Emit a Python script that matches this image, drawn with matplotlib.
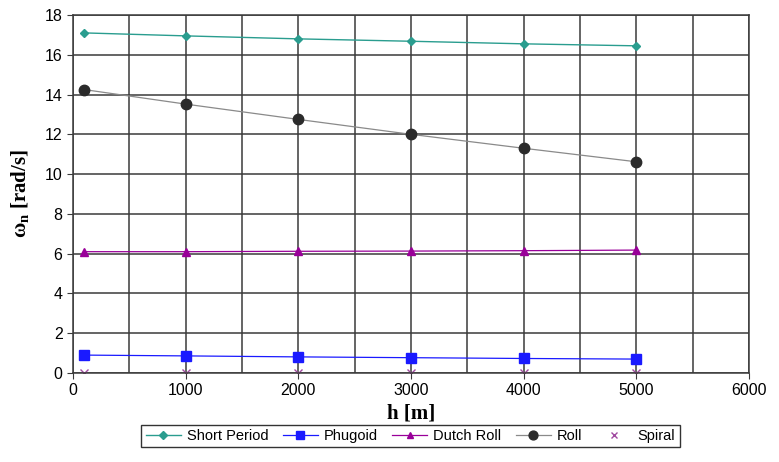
import matplotlib
matplotlib.use("Agg")
import matplotlib.pyplot as plt
from matplotlib.ticker import MultipleLocator

plt.rcParams["mathtext.fontset"] = "custom"
plt.rcParams["mathtext.rm"] = "Liberation Serif"
plt.rcParams["mathtext.it"] = "Liberation Serif:italic"
plt.rcParams["mathtext.bf"] = "Liberation Serif:bold"

h = [100, 1000, 2000, 3000, 4000, 5000]
short_period = [17.1, 16.95, 16.8, 16.68, 16.55, 16.45]
phugoid = [0.9, 0.86, 0.81, 0.77, 0.73, 0.70]
dutch_roll = [6.1, 6.1, 6.12, 6.13, 6.15, 6.18]
roll = [14.25, 13.52, 12.75, 12.0, 11.3, 10.62]
spiral = [0.02, 0.02, 0.02, 0.02, 0.02, 0.02]

fig = plt.figure(figsize=(7.79, 4.62), dpi=100)
ax = fig.add_axes([73/779, 1-373/462, (749-73)/779, (373-15)/462])

ax.plot(h, short_period, color="#2a9d8f", marker="D", markersize=4.5, lw=1.0, label="Short Period")
ax.plot(h, phugoid, color="#1a1aff", marker="s", markersize=7, lw=0.9, label="Phugoid")
ax.plot(h, dutch_roll, color="#990099", marker="^", markersize=5.5, lw=0.9, label="Dutch Roll")
ax.plot(h, roll, color="#8a8a8a", marker="o", markersize=7.5, mfc="#2b2b2b", mec="#2b2b2b", lw=0.9, label="Roll")
ax.plot(h, spiral, color="#a04aa0", marker="x", markersize=5.5, lw=0, label="Spiral")

ax.set_xlim(0, 6000)
ax.set_ylim(0, 18)
ax.xaxis.set_major_locator(MultipleLocator(1000))
ax.xaxis.set_minor_locator(MultipleLocator(500))
ax.yaxis.set_major_locator(MultipleLocator(2))
ax.grid(True, which="both", axis="x", color="#3a3a3a", lw=1.1)
ax.grid(True, which="major", axis="y", color="#3a3a3a", lw=1.1)
ax.set_axisbelow(True)
for s in ax.spines.values():
    s.set_color("#3a3a3a")
    s.set_linewidth(1.1)
ax.tick_params(which="both", length=4, color="#3a3a3a", labelsize=11.5, direction="out")
ax.tick_params(which="minor", length=0)
for lab in ax.get_xticklabels() + ax.get_yticklabels():
    lab.set_family("Liberation Sans")

ax.set_xlabel("h [m]", family="Liberation Serif", fontweight="bold", fontsize=15, labelpad=4)
ax.set_ylabel(r"$\mathbf{\omega_n}$ [rad/s]", family="Liberation Serif", fontweight="bold", fontsize=15, labelpad=10)

leg = fig.legend(loc="center", bbox_to_anchor=(0.527, 1-436/462), ncol=5, frameon=True,
                 fancybox=False, edgecolor="black", prop={"family": "Liberation Sans", "size": 10.5},
                 handlelength=2.4, columnspacing=1.0, handletextpad=0.4, borderpad=0.3,
                 markerscale=0.85)
leg.get_frame().set_linewidth(1.0)

fig.savefig("out.png", dpi=100)
